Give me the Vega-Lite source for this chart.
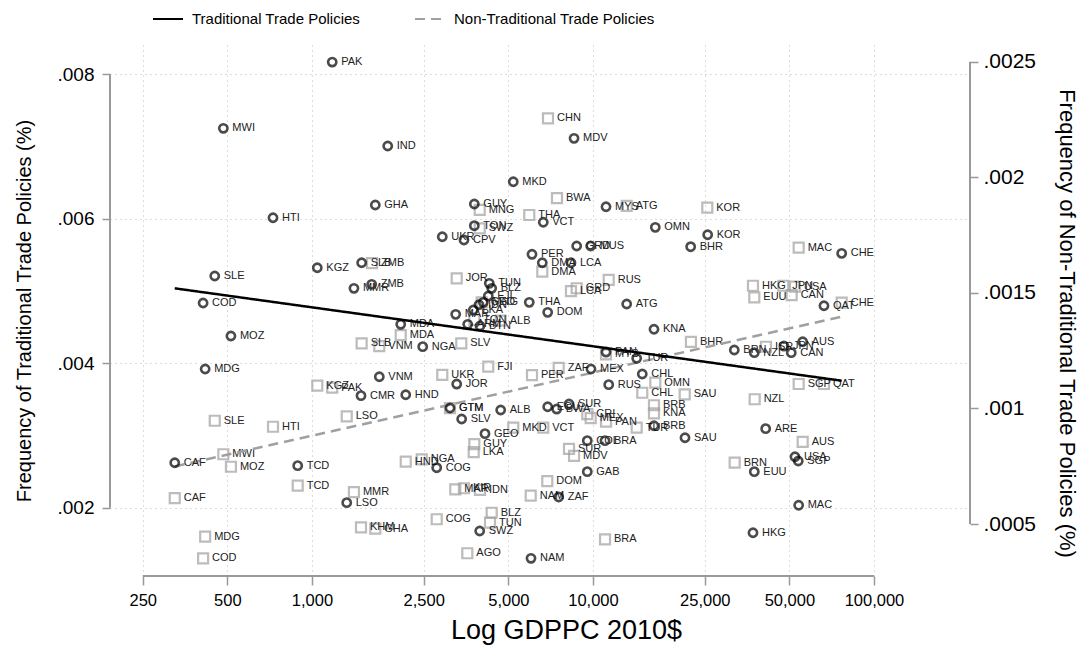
{
  "$schema": "https://vega.github.io/schema/vega-lite/v6.json",
  "width": 860,
  "height": 531,
  "autosize": "none",
  "padding": {"left": 110, "top": 45, "right": 113, "bottom": 69},
  "background": "white",
  "config": {
    "view": {"stroke": null},
    "font": "Liberation Sans",
    "axis": {"labelFont": "Liberation Sans", "titleFont": "Liberation Sans", "titleFontWeight": "normal", "labelColor": "#000", "titleColor": "#000", "tickColor": "#999", "tickWidth": 1.5, "domain": false, "gridColor": "#bbb", "gridDash": [1, 4], "gridWidth": 1},
    "legend": {"labelFont": "Liberation Sans", "labelLimit": 500}
  },
  "datasets": {
    "trad": [
      {"c": "PAK", "g": 1181, "v": 0.00817}, {"c": "MWI", "g": 484, "v": 0.007253}, {"c": "IND", "g": 1861, "v": 0.007008},
      {"c": "MKD", "g": 5206, "v": 0.006513}, {"c": "MDV", "g": 8566, "v": 0.007114}, {"c": "GHA", "g": 1681, "v": 0.006191},
      {"c": "HTI", "g": 727, "v": 0.006015}, {"c": "GUY", "g": 3784, "v": 0.006205}, {"c": "TON", "g": 3784, "v": 0.005905},
      {"c": "VCT", "g": 6657, "v": 0.005952}, {"c": "MYS", "g": 11131, "v": 0.006167}, {"c": "OMN", "g": 16668, "v": 0.005882},
      {"c": "KOR", "g": 25600, "v": 0.00578}, {"c": "BHR", "g": 22270, "v": 0.005614}, {"c": "CHE", "g": 76760, "v": 0.005522},
      {"c": "UKR", "g": 2910, "v": 0.005752}, {"c": "CPV", "g": 3476, "v": 0.005707}, {"c": "KGZ", "g": 1045, "v": 0.005323},
      {"c": "SLE", "g": 451, "v": 0.005208}, {"c": "SLB", "g": 1503, "v": 0.005392}, {"c": "MMR", "g": 1411, "v": 0.005038},
      {"c": "ZMB", "g": 1632, "v": 0.005093}, {"c": "COD", "g": 410, "v": 0.004835}, {"c": "MOZ", "g": 515, "v": 0.004378},
      {"c": "MDG", "g": 417, "v": 0.003921}, {"c": "CAF", "g": 325, "v": 0.002624}, {"c": "TCD", "g": 890, "v": 0.002583},
      {"c": "LSO", "g": 1330, "v": 0.002071}, {"c": "CMR", "g": 1495, "v": 0.003552}, {"c": "VNM", "g": 1737, "v": 0.003814},
      {"c": "HND", "g": 2157, "v": 0.003565}, {"c": "MDA", "g": 2070, "v": 0.00454}, {"c": "NGA", "g": 2479, "v": 0.00423},
      {"c": "JOR", "g": 3275, "v": 0.003713}, {"c": "GTM", "g": 3100, "v": 0.003381}, {"c": "SLV", "g": 3411, "v": 0.003229},
      {"c": "ALB", "g": 4696, "v": 0.003354}, {"c": "GEO", "g": 4129, "v": 0.003026}, {"c": "COG", "g": 2780, "v": 0.002555},
      {"c": "SWZ", "g": 3954, "v": 0.001679}, {"c": "NAM", "g": 6020, "v": 0.001301}, {"c": "ZAF", "g": 7552, "v": 0.00215},
      {"c": "GAB", "g": 9547, "v": 0.0025}, {"c": "COL", "g": 9547, "v": 0.002929}, {"c": "BRA", "g": 11040, "v": 0.002929},
      {"c": "SUR", "g": 8220, "v": 0.003437}, {"c": "ECU", "g": 6902, "v": 0.003399}, {"c": "BWA", "g": 7430, "v": 0.003367},
      {"c": "BRB", "g": 16490, "v": 0.003136}, {"c": "SAU", "g": 21260, "v": 0.00297}, {"c": "ARE", "g": 41180, "v": 0.003095},
      {"c": "USA", "g": 52350, "v": 0.002707}, {"c": "SGP", "g": 53780, "v": 0.002648}, {"c": "EUU", "g": 37510, "v": 0.0025},
      {"c": "MAC", "g": 53960, "v": 0.002035}, {"c": "HKG", "g": 37110, "v": 0.001655}, {"c": "AUS", "g": 55760, "v": 0.004299},
      {"c": "JPN", "g": 47820, "v": 0.004239}, {"c": "CAN", "g": 50780, "v": 0.004147}, {"c": "NZL", "g": 37510, "v": 0.004147},
      {"c": "BRN", "g": 31840, "v": 0.004184}, {"c": "QAT", "g": 66390, "v": 0.004797}, {"c": "PER", "g": 6069, "v": 0.005509},
      {"c": "DMA", "g": 6603, "v": 0.005392}, {"c": "LCA", "g": 8353, "v": 0.005392}, {"c": "GRD", "g": 8752, "v": 0.005624},
      {"c": "MUS", "g": 9817, "v": 0.005624}, {"c": "THA", "g": 5935, "v": 0.004844}, {"c": "DOM", "g": 6902, "v": 0.004706},
      {"c": "ATG", "g": 13186, "v": 0.004821}, {"c": "KNA", "g": 16490, "v": 0.004471}, {"c": "TUN", "g": 4277, "v": 0.005107},
      {"c": "BLZ", "g": 4362, "v": 0.005038}, {"c": "FJI", "g": 4242, "v": 0.004932}, {"c": "MAR", "g": 3248, "v": 0.004678},
      {"c": "LKA", "g": 3752, "v": 0.004738}, {"c": "IDN", "g": 3931, "v": 0.004811}, {"c": "MNG", "g": 4073, "v": 0.004844},
      {"c": "ARM", "g": 3584, "v": 0.00454}, {"c": "BTN", "g": 3963, "v": 0.004516}, {"c": "MEX", "g": 9840, "v": 0.003921},
      {"c": "TUR", "g": 14310, "v": 0.004069}, {"c": "CHL", "g": 14980, "v": 0.003852}, {"c": "RUS", "g": 11380, "v": 0.003704},
      {"c": "PAN", "g": 11131, "v": 0.004156}
    ],
    "nontrad": [
      {"c": "CHN", "g": 6919, "v": 0.002255}, {"c": "BWA", "g": 7448, "v": 0.00191}, {"c": "MNG", "g": 3955, "v": 0.001859},
      {"c": "THA", "g": 5935, "v": 0.001837}, {"c": "SWZ", "g": 3955, "v": 0.001779}, {"c": "ATG", "g": 13186, "v": 0.001876},
      {"c": "KOR", "g": 25520, "v": 0.001869}, {"c": "MAC", "g": 53960, "v": 0.001696}, {"c": "HKG", "g": 37110, "v": 0.001531},
      {"c": "JPN", "g": 47550, "v": 0.001531}, {"c": "USA", "g": 52350, "v": 0.001527}, {"c": "EUU", "g": 37510, "v": 0.001481},
      {"c": "CAN", "g": 50950, "v": 0.00149}, {"c": "CHE", "g": 76760, "v": 0.001458}, {"c": "BHR", "g": 22320, "v": 0.001288},
      {"c": "ISR", "g": 41280, "v": 0.001267}, {"c": "SGP", "g": 53960, "v": 0.001106}, {"c": "QAT", "g": 66390, "v": 0.001106},
      {"c": "SAU", "g": 21210, "v": 0.001061}, {"c": "NZL", "g": 37630, "v": 0.00104}, {"c": "OMN", "g": 16668, "v": 0.001112},
      {"c": "CHL", "g": 14980, "v": 0.001068}, {"c": "BRB", "g": 16490, "v": 0.001014}, {"c": "KNA", "g": 16490, "v": 0.000979},
      {"c": "RUS", "g": 11380, "v": 0.001556}, {"c": "GRD", "g": 8752, "v": 0.00152}, {"c": "LCA", "g": 8353, "v": 0.001508},
      {"c": "DMA", "g": 6603, "v": 0.001592}, {"c": "JOR", "g": 3275, "v": 0.001563}, {"c": "GEO", "g": 4020, "v": 0.001459},
      {"c": "TON", "g": 3784, "v": 0.001383}, {"c": "ALB", "g": 4696, "v": 0.00138}, {"c": "SLV", "g": 3400, "v": 0.001282},
      {"c": "MDA", "g": 2070, "v": 0.001317}, {"c": "SLB", "g": 1503, "v": 0.001282}, {"c": "VNM", "g": 1737, "v": 0.00127},
      {"c": "FJI", "g": 4242, "v": 0.001181}, {"c": "UKR", "g": 2910, "v": 0.001145}, {"c": "PER", "g": 6069, "v": 0.001144},
      {"c": "ZAF", "g": 7552, "v": 0.001176}, {"c": "MYS", "g": 11131, "v": 0.001234}, {"c": "KGZ", "g": 1045, "v": 0.001099},
      {"c": "PAK", "g": 1181, "v": 0.00109}, {"c": "LSO", "g": 1330, "v": 0.000966}, {"c": "SLE", "g": 451, "v": 0.000947},
      {"c": "HTI", "g": 727, "v": 0.000921}, {"c": "MWI", "g": 484, "v": 0.000802}, {"c": "MOZ", "g": 515, "v": 0.000748},
      {"c": "TCD", "g": 890, "v": 0.000666}, {"c": "MMR", "g": 1411, "v": 0.000638}, {"c": "CAF", "g": 325, "v": 0.000612},
      {"c": "KHM", "g": 1495, "v": 0.000486}, {"c": "GHA", "g": 1681, "v": 0.00048}, {"c": "MDG", "g": 417, "v": 0.000446},
      {"c": "COD", "g": 410, "v": 0.000352}, {"c": "GTM", "g": 3100, "v": 0.001002}, {"c": "MKD", "g": 5206, "v": 0.000917},
      {"c": "VCT", "g": 6657, "v": 0.000917}, {"c": "GUY", "g": 3784, "v": 0.000846}, {"c": "LKA", "g": 3765, "v": 0.000811},
      {"c": "HND", "g": 2157, "v": 0.00077}, {"c": "NGA", "g": 2459, "v": 0.00078}, {"c": "MAR", "g": 3237, "v": 0.00065},
      {"c": "KIR", "g": 3476, "v": 0.000655}, {"c": "IDN", "g": 3963, "v": 0.000648}, {"c": "DOM", "g": 6880, "v": 0.000686},
      {"c": "NAM", "g": 6005, "v": 0.000623}, {"c": "BLZ", "g": 4362, "v": 0.000549}, {"c": "TUN", "g": 4302, "v": 0.000506},
      {"c": "COG", "g": 2780, "v": 0.000521}, {"c": "AGO", "g": 3572, "v": 0.000374}, {"c": "BRA", "g": 11040, "v": 0.000434},
      {"c": "SUR", "g": 8220, "v": 0.000825}, {"c": "MDV", "g": 8566, "v": 0.000795}, {"c": "CRI", "g": 9547, "v": 0.000976},
      {"c": "MEX", "g": 9817, "v": 0.000958}, {"c": "PAN", "g": 11131, "v": 0.000943}, {"c": "TUR", "g": 14310, "v": 0.000917},
      {"c": "AUS", "g": 55760, "v": 0.000856}, {"c": "BRN", "g": 31940, "v": 0.000766}, {"c": "ZMB", "g": 1636, "v": 0.001629}
    ],
    "fitT": [{"s": "Traditional Trade Policies", "g": 325, "v": 0.005038}, {"s": "Traditional Trade Policies", "g": 76760, "v": 0.003759}],
    "fitN": [{"s": "Non-Traditional Trade Policies", "g": 325, "v": 0.000749}, {"s": "Non-Traditional Trade Policies", "g": 76760, "v": 0.001397}],
    "axR": [{"g": 219650, "v": 0.0005, "v2": 0.0025}],
    "axL": [{"g": 191.2, "v": 0.002, "v2": 0.008}],
    "axB": [{"g": 250, "g2": 100000, "v": 0.001056}]
  },
  "encoding": {
    "x": {
      "field": "g", "type": "quantitative",
      "scale": {"type": "log", "domain": [191.2, 219650], "nice": false, "zero": false},
      "axis": {"orient": "bottom", "values": [250, 500, 1000, 2500, 5000, 10000, 25000, 50000, 100000], "format": ",d", "grid": true, "tickSize": 9, "labelFontSize": 16.5, "labelPadding": 7, "title": "Log GDPPC 2010$", "titleFontSize": 27, "titlePadding": 9, "titleX": 456}
    }
  },
  "layer": [
    {
      "encoding": {
        "y": {"field": "v", "type": "quantitative",
          "scale": {"domain": [0.0002755, 0.0025722], "nice": false, "zero": false},
          "axis": {"orient": "right", "values": [0.0005, 0.001, 0.0015, 0.002, 0.0025], "labelExpr": "replace(format(datum.value, '.4~f'), '0.', '.')", "grid": false, "tickSize": 8, "labelFontSize": 21, "labelPadding": 5, "title": "Frequency of Non-Traditional Trade Policies (%)", "titleFontSize": 22, "titlePadding": 19, "titleY": 278}
        }
      },
      "layer": [
        {"data": {"name": "axR"}, "mark": {"type": "rule", "stroke": "#999", "strokeWidth": 2}, "encoding": {"y2": {"field": "v2"}}},
        {"data": {"name": "nontrad"}, "mark": {"type": "point", "shape": "square", "filled": false, "stroke": "#a0a0a0", "strokeWidth": 2.2, "size": 100}},
        {"data": {"name": "nontrad"}, "mark": {"type": "text", "align": "left", "baseline": "middle", "dx": 9, "fontSize": 11, "color": "#222"}, "encoding": {"text": {"field": "c"}}},
        {"data": {"name": "fitN"}, "mark": {"type": "line", "strokeWidth": 2.5},
          "encoding": {
            "color": {"field": "s", "type": "nominal", "scale": {"domain": ["Traditional Trade Policies", "Non-Traditional Trade Policies"], "range": ["#000000", "#a0a0a0"]}, "legend": {"title": null, "orient": "none", "legendX": 42, "legendY": -42, "direction": "horizontal", "symbolType": "stroke", "symbolSize": 900, "symbolStrokeWidth": 2, "labelFontSize": 15, "columnPadding": 50, "labelOffset": 8, "labelLimit": 500}},
            "strokeDash": {"field": "s", "type": "nominal", "scale": {"domain": ["Traditional Trade Policies", "Non-Traditional Trade Policies"], "range": [[1, 0], [10, 6]]}, "legend": {"title": null, "orient": "none", "legendX": 42, "legendY": -42, "direction": "horizontal", "symbolType": "stroke", "symbolSize": 900, "symbolStrokeWidth": 2, "labelFontSize": 15, "columnPadding": 50, "labelOffset": 8, "labelLimit": 500}}
          }}
      ]
    },
    {
      "encoding": {
        "y": {"field": "v", "type": "quantitative",
          "scale": {"domain": [0.001056, 0.008406], "nice": false, "zero": false},
          "axis": {"orient": "left", "values": [0.002, 0.004, 0.006, 0.008], "labelExpr": "replace(format(datum.value, '.3f'), '0.', '.')", "grid": true, "tickSize": 8, "labelFontSize": 19, "labelPadding": 8, "title": "Frequency of Traditional Trade Policies (%)", "titleFontSize": 20, "titlePadding": 23}
        }
      },
      "layer": [
        {"data": {"name": "axL"}, "mark": {"type": "rule", "stroke": "#999", "strokeWidth": 2}, "encoding": {"y2": {"field": "v2"}}},
        {"data": {"name": "axB"}, "mark": {"type": "rule", "stroke": "#999", "strokeWidth": 2}, "encoding": {"x2": {"field": "g2"}}},
        {"data": {"name": "trad"}, "mark": {"type": "point", "shape": "circle", "filled": false, "stroke": "#000", "strokeWidth": 2.6, "size": 68}},
        {"data": {"name": "trad"}, "mark": {"type": "text", "align": "left", "baseline": "middle", "dx": 9, "fontSize": 11, "color": "#222"}, "encoding": {"text": {"field": "c"}}},
        {"data": {"name": "fitT"}, "mark": {"type": "line", "strokeWidth": 2.5},
          "encoding": {
            "color": {"field": "s", "type": "nominal", "scale": {"domain": ["Traditional Trade Policies", "Non-Traditional Trade Policies"], "range": ["#000000", "#a0a0a0"]}, "legend": {"title": null, "orient": "none", "legendX": 42, "legendY": -42, "direction": "horizontal", "symbolType": "stroke", "symbolSize": 900, "symbolStrokeWidth": 2, "labelFontSize": 15, "columnPadding": 50, "labelOffset": 8, "labelLimit": 500}},
            "strokeDash": {"field": "s", "type": "nominal", "scale": {"domain": ["Traditional Trade Policies", "Non-Traditional Trade Policies"], "range": [[1, 0], [10, 6]]}, "legend": {"title": null, "orient": "none", "legendX": 42, "legendY": -42, "direction": "horizontal", "symbolType": "stroke", "symbolSize": 900, "symbolStrokeWidth": 2, "labelFontSize": 15, "columnPadding": 50, "labelOffset": 8, "labelLimit": 500}}
          }}
      ]
    }
  ],
  "resolve": {"scale": {"y": "independent"}}
}
